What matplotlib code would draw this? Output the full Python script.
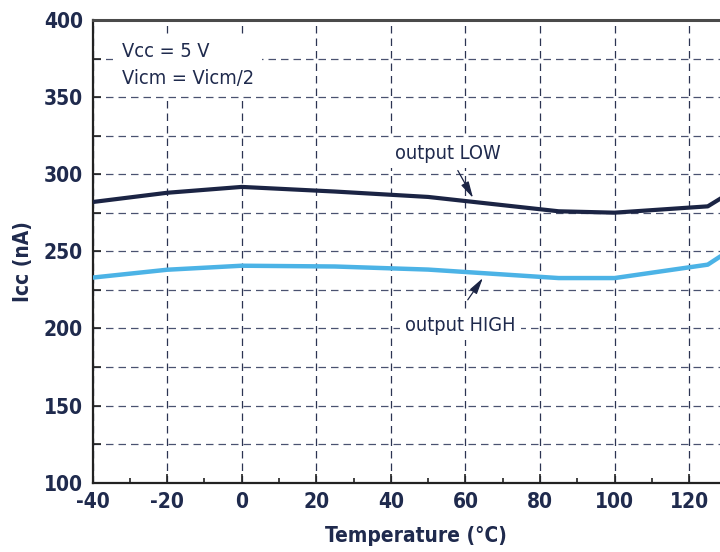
import matplotlib
matplotlib.use("Agg")
import matplotlib.pyplot as plt
from matplotlib.ticker import MultipleLocator

# Supply current vs temperature
temps = [-40, -20, 0, 25, 50, 85, 100, 125, 130]
icc_low = [282, 288, 291.8, 288.8, 285.3, 276, 275.1, 279.2, 286.6]
icc_high = [233, 238.1, 240.7, 240.2, 238.2, 232.7, 232.7, 241.4, 249.3]

x_ticks = [-40, -20, 0, 20, 40, 60, 80, 100, 120]
y_ticks = [100, 150, 200, 250, 300, 350, 400]

navy = "#1b2444"
light_blue = "#4cb3e6"
text_color = "#1f2a4d"
grid_color = "#4a5270"

plt.rcParams["font.family"] = ["DejaVu Sans"]
plt.rcParams["font.stretch"] = "condensed"
plt.rcParams["axes.unicode_minus"] = False

fig = plt.figure(figsize=(7.2, 5.52), dpi=100)
ax = fig.add_axes([0.1286, 0.1255, 0.8803, 0.8382])

ax.plot(temps, icc_low, color=navy, lw=3.0, solid_capstyle="butt", zorder=3)
ax.plot(temps, icc_high, color=light_blue, lw=3.2, solid_capstyle="butt", zorder=3)

ax.set_xlim(-40, 130)
ax.set_ylim(100, 400)
ax.set_xticks(x_ticks)
ax.set_yticks(y_ticks)
ax.xaxis.set_minor_locator(MultipleLocator(10))
ax.yaxis.set_minor_locator(MultipleLocator(25))

ax.set_axisbelow(True)
ax.grid(which="major", axis="x", color="#2c3452", lw=0.9, dashes=(6, 4))
ax.grid(which="both", axis="y", color=grid_color, lw=0.9, dashes=(6, 4))

ax.tick_params(axis="both", which="both", direction="in", colors="#222222",
               labelcolor=text_color, labelsize=15, width=1.2)
ax.tick_params(axis="x", which="major", length=6.5, pad=7)
ax.tick_params(axis="x", which="minor", length=3.5)
ax.tick_params(axis="y", which="both", length=6, pad=7)
for lbl in ax.get_xticklabels() + ax.get_yticklabels():
    lbl.set_fontweight("bold")
    lbl.set_fontstretch("condensed")

ax.spines["top"].set_color("#4a4a4a")
ax.spines["top"].set_linewidth(2.2)
for side in ["left", "bottom"]:
    ax.spines[side].set_color("#222222")
    ax.spines[side].set_linewidth(1.6)
ax.spines["right"].set_visible(False)

ax.set_xlabel("Temperature (°C)", fontsize=15, fontweight="bold", color=text_color)
ax.set_ylabel("Icc (nA)", fontsize=15, fontweight="bold", color=text_color)
ax.xaxis.set_label_coords(0.51, -0.094)
ax.yaxis.set_label_coords(-0.094, 0.477)

box = dict(facecolor="white", edgecolor="none", pad=4)
ax.text(-32.2, 371, "Vcc = 5 V\nVicm = Vicm/2", fontsize=14.3, color=text_color,
        ha="left", va="center", linespacing=1.5,
        bbox=dict(facecolor="white", edgecolor="none", pad=6), zorder=4)

arrow = dict(arrowstyle="-|>,head_length=0.55,head_width=0.14", color=navy,
             lw=0.9, mutation_scale=18)

ax.text(55.4, 313.6, "output LOW", fontsize=14.3, color=text_color,
        ha="center", va="center", bbox=box, zorder=4)
ax.annotate("", xy=(62.4, 283.1), xytext=(57.6, 304), arrowprops=arrow, zorder=5)

ax.text(58.7, 202, "output HIGH", fontsize=14.3, color=text_color,
        ha="center", va="center", bbox=box, zorder=4)
ax.annotate("", xy=(65.1, 234.2), xytext=(60.2, 217.1), arrowprops=arrow, zorder=5)

fig.savefig("out.png", dpi=100)
